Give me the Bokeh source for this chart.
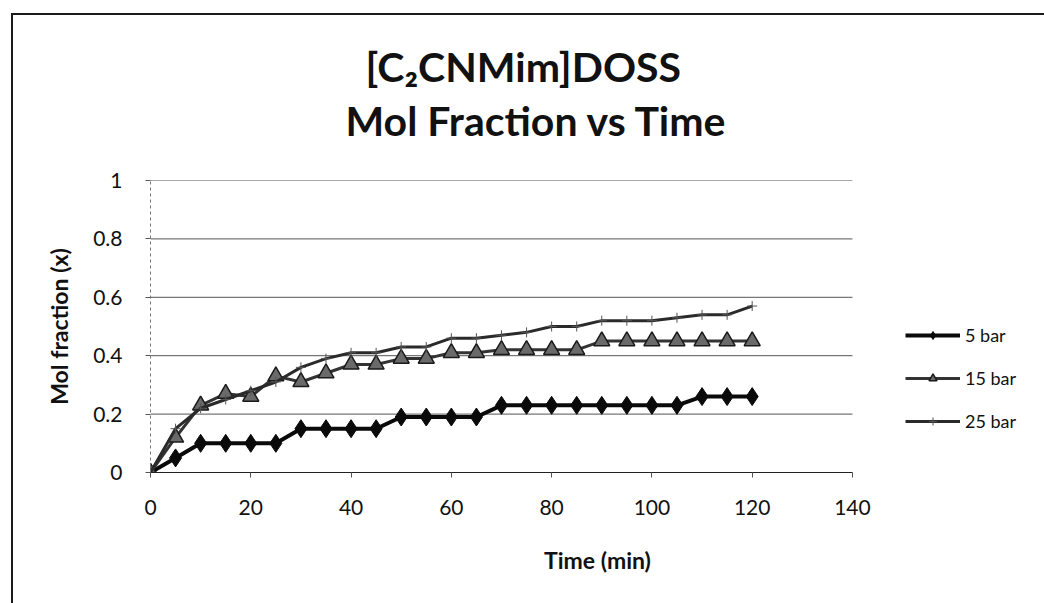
from bokeh.plotting import figure
from bokeh.models import Range1d, FixedTicker, Title, Legend, LegendItem
from bokeh.embed import file_html
from bokeh.resources import INLINE

# ---- data ----
time_min = [0, 5, 10, 15, 20, 25, 30, 35, 40, 45, 50, 55, 60,
            65, 70, 75, 80, 85, 90, 95, 100, 105, 110, 115, 120]
bar5 = [0, 0.05, 0.10, 0.10, 0.10, 0.10, 0.15, 0.15, 0.15, 0.15, 0.19, 0.19, 0.19,
        0.19, 0.23, 0.23, 0.23, 0.23, 0.23, 0.23, 0.23, 0.23, 0.26, 0.26, 0.26]
bar15 = [0, 0.12, 0.23, 0.27, 0.26, 0.33, 0.31, 0.34, 0.37, 0.37, 0.39, 0.39, 0.41,
         0.41, 0.42, 0.42, 0.42, 0.42, 0.45, 0.45, 0.45, 0.45, 0.45, 0.45, 0.45]
bar25 = [0, 0.15, 0.22, 0.25, 0.28, 0.31, 0.36, 0.39, 0.41, 0.41, 0.43, 0.43, 0.46,
         0.46, 0.47, 0.48, 0.50, 0.50, 0.52, 0.52, 0.52, 0.53, 0.54, 0.54, 0.57]
series_names = ["5 bar", "15 bar", "25 bar"]
x_ticks = [0, 20, 40, 60, 80, 100, 120, 140]
y_ticks = [0, 0.2, 0.4, 0.6, 0.8, 1.0]
y_tick_labels = ["0", "0.2", "0.4", "0.6", "0.8", "1"]
title_lines = ["[C\u2082CNMim]DOSS", "Mol Fraction vs Time"]
x_title = "Time (min)"
y_title = "Mol fraction (x)"

FONT = "Lato"
X_MAX = x_ticks[-1]
# plot area is widened to the right (without axis or grid there) so the legend fits in it
X_VIEW_END = 178.3

LINE = "linear-gradient(#1a1a1a, #1a1a1a)"
p = figure(width=1033, height=610, output_backend="svg", toolbar_location=None,
           x_range=Range1d(0, X_VIEW_END), y_range=Range1d(0, 1),
           min_border_left=139, min_border_right=0, min_border_top=187,
           min_border_bottom=131,
           styles={"margin-left": "11px", "margin-top": "-7px",
                   "background": (LINE + " 0px 20px / 100% 2px no-repeat, "
                                  + LINE + " 0px 20px / 2px 100% no-repeat, white")})

p.outline_line_color = None
p.background_fill_color = "white"
p.border_fill_color = None

title_text = "\n".join(["\u00a0" * 2 + title_lines[0], title_lines[1]])
title = Title(text=title_text, align="left", offset=195, text_font=FONT,
              text_font_style="bold", text_font_size="41px", text_color="#111111",
              text_line_height=1.11, standoff=71)
p.add_layout(title, "above")

# axes
p.xaxis.bounds = (0, X_MAX)
p.xaxis.ticker = FixedTicker(ticks=x_ticks)
p.yaxis.ticker = FixedTicker(ticks=y_ticks)
p.yaxis.major_label_overrides = {t: l for t, l in zip(y_ticks, y_tick_labels)}
for ax in (p.xaxis, p.yaxis):
    ax.major_label_text_font = FONT
    ax.major_label_text_font_size = "21px"
    ax.major_label_text_color = "#111111"
    ax.axis_label_text_font = FONT
    ax.axis_label_text_font_style = "bold"
    ax.axis_label_text_font_size = "23px"
    ax.axis_label_text_color = "#111111"
    ax.minor_tick_line_color = None
    ax.major_tick_in = 0
    ax.major_tick_out = 5
p.xaxis.axis_label = x_title
p.yaxis.axis_label = y_title
p.xaxis.axis_line_color = "#222222"
p.xaxis.major_tick_line_color = "#555555"
p.xaxis.major_label_standoff = 22
p.xaxis.axis_label_standoff = 28
p.yaxis.axis_line_color = "#777777"
p.yaxis.axis_line_dash = "3 3"
p.yaxis.major_tick_line_color = "#555555"
p.yaxis.major_label_standoff = 23
p.yaxis.axis_label_standoff = 17

# horizontal grid lines limited to the x-axis span
p.xgrid.visible = False
p.ygrid.visible = False
grid_y = y_ticks[1:]
p.segment(x0=[x_ticks[0]] * len(grid_y), x1=[X_MAX] * len(grid_y), y0=grid_y, y1=grid_y,
          line_color="#555555", line_width=1)

# series
r5l = p.line(time_min, bar5, line_color="#0a0a0a", line_width=4)
r5m = p.scatter(time_min, bar5, marker="diamond", size=18, fill_color="#0a0a0a",
                line_color="#0a0a0a")
r15l = p.line(time_min, bar15, line_color="#333333", line_width=3)
r15m = p.scatter(time_min, bar15, marker="triangle", size=16, fill_color="#6a6a6a",
                 line_color="#1a1a1a", line_width=1.5)
r25l = p.line(time_min, bar25, line_color="#2a2a2a", line_width=3)
r25m = p.scatter(time_min, bar25, marker="cross", size=10, line_color="#555555",
                 line_width=1)

legend = Legend(items=[LegendItem(label=series_names[0], renderers=[r5l, r5m]),
                       LegendItem(label=series_names[1], renderers=[r15l, r15m]),
                       LegendItem(label=series_names[2], renderers=[r25l, r25m])],
                location=(755, 40), glyph_width=55, glyph_height=20, label_height=20,
                spacing=21, padding=0, margin=0, label_standoff=5,
                label_text_font=FONT, label_text_font_size="18px",
                label_text_color="#111111", border_line_color=None,
                background_fill_alpha=0)
p.add_layout(legend, "center")

open("out.html", "w").write(file_html(p, INLINE))
